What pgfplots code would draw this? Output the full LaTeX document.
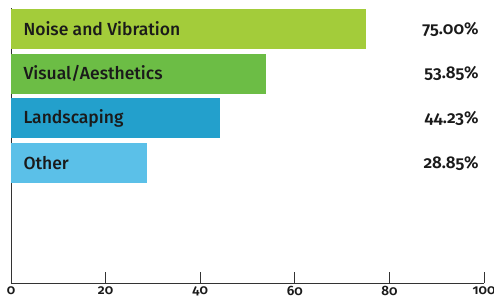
\documentclass[border=0pt]{standalone}
\usepackage{fontspec}
\setmainfont{Fira Sans}[UprightFont=* Medium, BoldFont=* SemiBold, Numbers=OldStyle]
\usepackage{pgfplots}
\pgfplotsset{compat=1.18}
\definecolor{c1}{HTML}{A3CC3A}
\definecolor{c2}{HTML}{6CBD45}
\definecolor{c3}{HTML}{23A0CC}
\definecolor{c4}{HTML}{5BC0E8}
\definecolor{ax}{HTML}{333333}
\definecolor{tx}{HTML}{1A1A1A}
\tikzset{
  lbl/.style={anchor=west, text=tx, font=\fontsize{17.5}{17.5}\selectfont},
  pct/.style={anchor=east, text=tx, font=\bfseries\fontsize{17}{17}\selectfont},
}
\begin{document}
\begin{tikzpicture}
\begin{axis}[
  scale only axis, width=473pt, height=275pt,
  xmin=0, xmax=100, ymin=-0.47, ymax=5.68, y dir=reverse,
  axis lines=left, axis line style={ax, line width=0.9pt, -},
  xtick={0,20,40,60,80,100}, ytick=\empty,
  tick style={ax, line width=0.9pt}, major tick length=11pt,
  xtick align=inside,
  tick label style={font=\bfseries\fontsize{13.5}{13.5}\selectfont, text=tx},
  /pgf/number format/assume math mode=true,
  xbar, bar width=0.895, bar shift=0pt,
  clip=false,
]
\addplot[draw=none, fill=c1] coordinates {(75.00,0)};
\addplot[draw=none, fill=c2] coordinates {(53.85,1)};
\addplot[draw=none, fill=c3] coordinates {(44.23,2)};
\addplot[draw=none, fill=c4] coordinates {(28.85,3)};
\node[lbl] at (axis cs:1.9,0) {Noise and Vibration};
\node[lbl] at (axis cs:1.9,1) {Visual/Aesthetics};
\node[lbl] at (axis cs:1.9,2) {Landscaping};
\node[lbl] at (axis cs:1.9,3) {Other};
\node[pct] at (axis cs:99.6,0) {75.00\%};
\node[pct] at (axis cs:99.6,1) {53.85\%};
\node[pct] at (axis cs:99.6,2) {44.23\%};
\node[pct] at (axis cs:99.6,3) {28.85\%};
\end{axis}
\pgfresetboundingbox
\path (-11pt,-18pt) rectangle (483pt,283pt);
\end{tikzpicture}
\end{document}
